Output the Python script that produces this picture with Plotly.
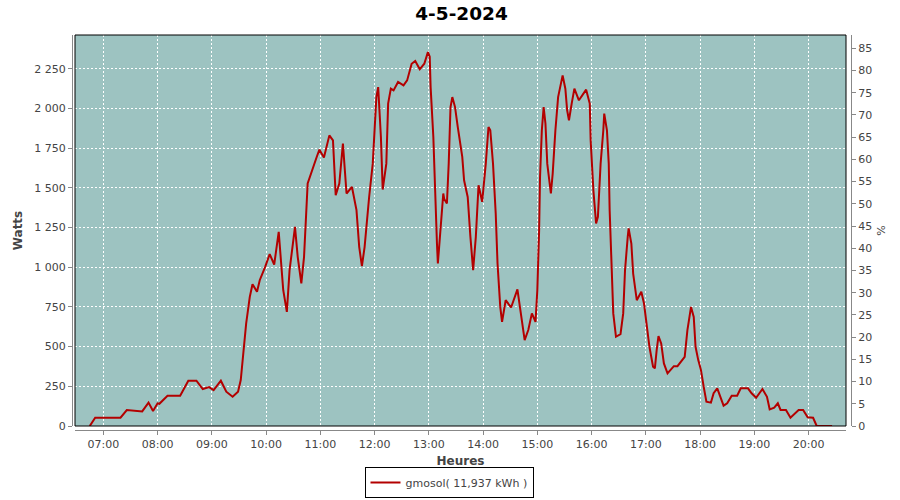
import plotly.graph_objects as go

DAY = "2024-05-04"
TITLE = "4-5-2024"
SERIES_NAME = "gmosol( 11,937 kWh )"

times = ["06:45", "06:51", "07:19", "07:26", "07:43", "07:50", "07:55", "08:00", "08:02", "08:11",
         "08:25", "08:34", "08:43", "08:50", "08:57", "09:02", "09:10", "09:16", "09:23", "09:29",
         "09:32", "09:35", "09:38", "09:42", "09:45", "09:50", "09:53", "09:59", "10:04", "10:09",
         "10:14", "10:19", "10:23", "10:26", "10:32", "10:35", "10:39", "10:42", "10:46", "10:56",
         "10:59", "11:04", "11:10", "11:14", "11:17", "11:21", "11:25", "11:29", "11:35", "11:40",
         "11:43", "11:46", "11:49", "11:54", "11:58", "12:02", "12:04", "12:07", "12:09", "12:13",
         "12:15", "12:18", "12:21", "12:26", "12:32", "12:36", "12:41", "12:45", "12:50", "12:55",
         "12:59", "13:01", "13:02", "13:05", "13:07", "13:09", "13:10", "13:13", "13:16", "13:17",
         "13:20", "13:22", "13:24", "13:26", "13:29", "13:32", "13:37", "13:39", "13:43", "13:46",
         "13:49", "13:52", "13:55", "13:57", "13:59", "14:03", "14:06", "14:08", "14:11", "14:14",
         "14:16", "14:19", "14:21", "14:25", "14:31", "14:38", "14:41", "14:46", "14:50", "14:54",
         "14:58", "15:00", "15:02", "15:03", "15:05", "15:07", "15:09", "15:11", "15:15", "15:17",
         "15:20", "15:23", "15:28", "15:31", "15:33", "15:35", "15:38", "15:41", "15:46", "15:54",
         "15:58", "15:59", "16:02", "16:05", "16:07", "16:10", "16:13", "16:14", "16:17", "16:19",
         "16:20", "16:22", "16:24", "16:27", "16:32", "16:35", "16:37", "16:40", "16:41", "16:44",
         "16:46", "16:50", "16:52", "16:55", "16:58", "17:01", "17:04", "17:08", "17:10", "17:12",
         "17:14", "17:17", "17:20", "17:24", "17:31", "17:35", "17:40", "17:43", "17:46", "17:50",
         "17:53", "17:55", "17:58", "18:01", "18:04", "18:07", "18:12", "18:15", "18:19", "18:22",
         "18:26", "18:30", "18:35", "18:41", "18:45", "18:53", "18:57", "19:02", "19:09", "19:14",
         "19:17", "19:22", "19:26", "19:29", "19:35", "19:40", "19:43", "19:49", "19:54", "19:59",
         "20:05", "20:09", "20:26"]

watts = [0, 52, 52, 100, 92, 147, 94, 143, 140, 191,
         191, 285, 285, 233, 245, 226, 285, 216, 184, 216,
         289, 457, 646, 813, 893, 845, 918, 1002, 1082, 1017,
         1222, 855, 719, 981, 1254, 1065, 898, 1065, 1527, 1694,
         1740, 1690, 1830, 1799, 1453, 1527, 1778, 1464, 1505, 1359,
         1128, 1006, 1128, 1442, 1652, 2071, 2134, 1820, 1489, 1652,
         2030, 2124, 2113, 2166, 2145, 2176, 2281, 2298, 2246, 2281,
         2354, 2326, 2134, 1820, 1422, 1149, 1023, 1275, 1464, 1430,
         1401, 1652, 2008, 2071, 2008, 1883, 1694, 1547, 1442, 1191,
         981, 1191, 1516, 1464, 1411, 1652, 1883, 1862, 1652, 1338,
         1023, 750, 656, 792, 746, 860, 750, 541, 604, 709,
         656, 855, 1233, 1568, 1862, 2008, 1904, 1652, 1464, 1589,
         1862, 2071, 2208, 2124, 1988, 1925, 2030, 2124, 2051, 2118,
         2030, 1799, 1484, 1275, 1317, 1652, 1862, 1967, 1862, 1652,
         1359, 1023, 709, 562, 578, 709, 981, 1191, 1244, 1149,
         960, 792, 813, 845, 771, 646, 499, 373, 363, 478,
         566, 520, 394, 331, 377, 377, 419, 436, 604, 750,
         687, 499, 415, 352, 247, 153, 147, 206, 237, 184,
         128, 143, 191, 191, 237, 237, 206, 178, 233, 184,
         105, 115, 143, 101, 101, 52, 70, 101, 101, 55,
         52, 0, 0]

x = [f"{DAY} {t}" for t in times]

fig = go.Figure()
fig.add_trace(go.Scatter(x=x, y=watts, mode="lines", name=SERIES_NAME,
                         line=dict(color="#b30000", width=2)))
fig.add_trace(go.Scatter(x=[x[0]], y=[None], yaxis="y2", mode="lines",
                         showlegend=False, hoverinfo="skip"))

axis_font = dict(family="DejaVu Sans", size=11, color="#444444")
title_font = dict(family="DejaVu Sans", size=12, color="#444444", weight="bold")

fig.update_layout(
    width=900, height=500,
    paper_bgcolor="white",
    plot_bgcolor="#9dc3c1",
    separators=", ",
    margin=dict(l=72, r=49, t=35, b=70, autoexpand=False),
    title=dict(text=TITLE, x=0.5, xref="paper", xanchor="center",
               y=1 - 13.5 / 500, yref="container", yanchor="middle",
               font=dict(family="DejaVu Sans", size=18.5, color="black", weight="bold")),
    xaxis=dict(
        type="date",
        automargin=False,
        domain=[3 / 779, 774 / 779],
        anchor="free", position=0,
        range=[f"{DAY} 06:28:41", f"{DAY} 20:41:24"],
        dtick=3600000, tick0=f"{DAY} 00:00", tickformat="%H:%M",
        showgrid=True, gridcolor="white", griddash="2px,2px", gridwidth=1,
        showline=True, linecolor="#888888", linewidth=1,
        ticks="outside", ticklen=4, tickcolor="#888888",
        tickfont=axis_font,
        title=dict(text="Heures", font=title_font, standoff=6),
        zeroline=False,
    ),
    yaxis=dict(
        automargin=False,
        domain=[4 / 395, 1],
        anchor="free", position=0,
        range=[0, 2462],
        dtick=250, tick0=0,
        separatethousands=True, tickformat=",d",
        showgrid=True, gridcolor="white", griddash="2px,2px", gridwidth=1,
        showline=True, linecolor="#888888", linewidth=1,
        ticks="outside", ticklen=4, tickcolor="#888888",
        tickfont=axis_font,
        title=dict(text="Watts", font=title_font, standoff=8),
        zeroline=False,
    ),
    yaxis2=dict(
        automargin=False,
        overlaying="y", side="right",
        anchor="free", position=1,
        range=[0, 88.0],
        dtick=5, tick0=0,
        showgrid=False,
        showline=True, linecolor="#888888", linewidth=1,
        ticks="outside", ticklen=4, tickcolor="#888888",
        tickfont=axis_font,
        title=dict(text="%", font=dict(family="DejaVu Sans", size=11, color="#444444"), standoff=6),
        zeroline=False,
    ),
    legend=dict(
        orientation="h",
        x=(449 - 72) / 779, xanchor="center",
        y=-(498 - 430) / 395, yanchor="bottom",
        bordercolor="black", borderwidth=1,
        bgcolor="white",
        font=dict(family="DejaVu Sans", size=11, color="#444444"),
    ),
    showlegend=True,
    shapes=[dict(type="rect", xref="x domain", yref="y domain",
                 x0=0, x1=1, y0=0, y1=1,
                 line=dict(color="black", width=1), fillcolor="rgba(0,0,0,0)",
                 layer="above")],
)

fig.write_html("out.html", config={"displayModeBar": False},
               post_script="document.body.style.margin='0';")
